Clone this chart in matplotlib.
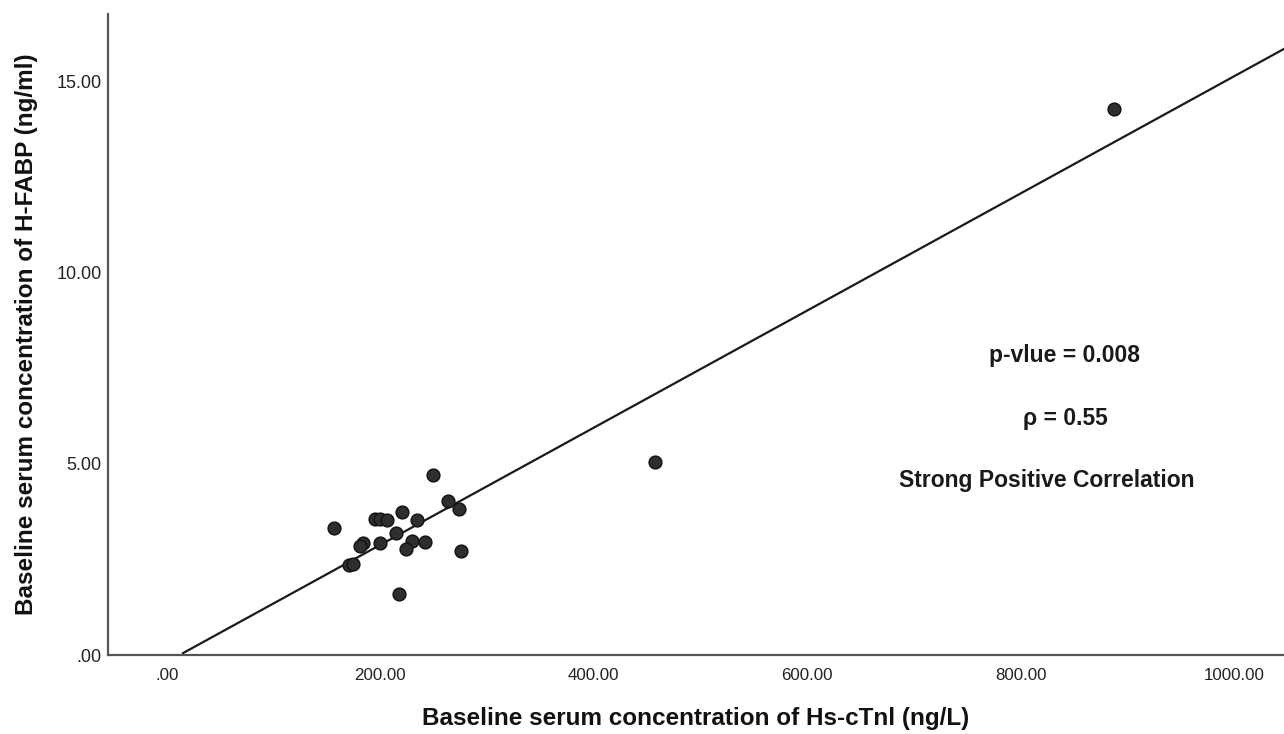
import matplotlib
matplotlib.use('Agg')
import matplotlib.pyplot as plt
import numpy as np

plt.rcParams['font.family'] = ['Liberation Sans', 'DejaVu Sans']

# Hs-cTnI (ng/L) vs H-FABP (ng/ml)
hs_ctni = [887.5, 457.4, 249.6, 156.8, 194.9, 199.6, 205.9, 220.0, 234.6,
           263.6, 273.9, 214.6, 184.0, 180.9, 199.6, 229.3, 224.0, 241.8,
           275.8, 170.9, 174.6, 217.2]
h_fabp = [14.28, 5.04, 4.71, 3.33, 3.55, 3.55, 3.53, 3.74, 3.52,
          4.02, 3.82, 3.19, 2.92, 2.84, 2.92, 2.97, 2.77, 2.96,
          2.73, 2.36, 2.38, 1.59]

# fit line as drawn (intercept, slope)
fit_a = -0.18
fit_b = 0.01531
fit_x_start = 15

x_ticks = [0, 200, 400, 600, 800, 1000]
x_tick_labels = ['.00', '200.00', '400.00', '600.00', '800.00', '1000.00']
y_ticks = [0, 5, 10, 15]
y_tick_labels = ['.00', '5.00', '10.00', '15.00']

notes = ['p-vlue = 0.008', 'ρ = 0.55', 'Strong Positive Correlation']
notes_x = [841, 842, 825]
notes_y = [7.83, 6.19, 4.57]

fig = plt.figure(figsize=(12.84, 7.34), dpi=100)
ax = fig.add_axes([0.0841, 0.1076, 0.9159, 0.8733])

xmin, xmax = -55.3, 1046.9
ax.set_xlim(xmin, xmax)
ax.set_ylim(0, 16.76)

lx = np.array([fit_x_start, xmax])
ax.plot(lx, fit_a + fit_b * lx, color='#1a1a1a', lw=1.6, zorder=2)

ax.scatter(hs_ctni, h_fabp, s=85, color='#2e2e2e', edgecolors='#111111',
           linewidths=1.0, zorder=3)

for t, x, y in zip(notes, notes_x, notes_y):
    ax.text(x, y, t, ha='center', va='center', fontsize=16.5,
            fontweight='bold', color='#1a1a1a')

ax.set_xticks(x_ticks)
ax.set_xticklabels(x_tick_labels)
ax.set_yticks(y_ticks)
ax.set_yticklabels(y_tick_labels)
ax.tick_params(axis='x', length=0, pad=9.5, labelsize=12.2, labelcolor='#222222')
ax.tick_params(axis='y', length=0, pad=4.5, labelsize=13, labelcolor='#222222')

for s in ['top', 'right']:
    ax.spines[s].set_visible(False)
for s in ['left', 'bottom']:
    ax.spines[s].set_color('#555555')
    ax.spines[s].set_linewidth(1.6)

ax.set_xlabel('Baseline serum concentration of Hs-cTnl (ng/L)', fontsize=17.5,
              fontweight='bold', color='#111111', labelpad=17)
ax.set_ylabel('Baseline serum concentration of H-FABP (ng/ml)', fontsize=17.5,
              fontweight='bold', color='#111111', labelpad=13)

fig.savefig('out.png', dpi=100)
